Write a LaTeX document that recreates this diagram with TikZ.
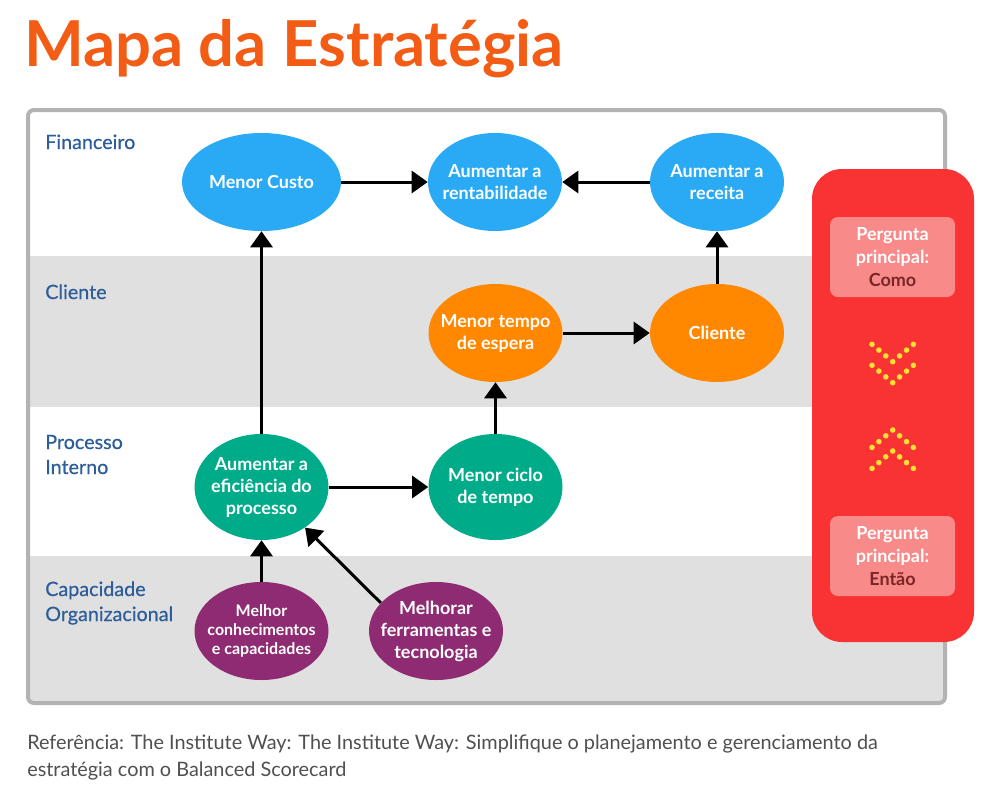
\documentclass[tikz,border=0pt]{standalone}
\usepackage{fontspec}
\setmainfont{Lato}
\newfontfamily\lanefont[FakeBold=0.6]{Lato}
\usetikzlibrary{shapes.geometric,arrows.meta}
\definecolor{titleorange}{RGB}{242,92,20}
\definecolor{lanelabel}{RGB}{46,94,154}
\definecolor{lanegray}{RGB}{224,224,224}
\definecolor{framegray}{RGB}{179,179,179}
\definecolor{finblue}{RGB}{42,170,245}
\definecolor{cliorange}{RGB}{255,136,0}
\definecolor{procgreen}{RGB}{0,171,138}
\definecolor{cappurple}{RGB}{142,43,114}
\definecolor{panelred}{RGB}{249,51,51}
\definecolor{askpink}{RGB}{249,138,138}
\definecolor{askdark}{RGB}{122,38,38}
\definecolor{dotyellow}{RGB}{255,224,51}
\definecolor{notegray}{RGB}{80,80,80}

\begin{document}
\begin{tikzpicture}[x=0.75pt,y=-0.75pt,
  goal/.style={ellipse,fill=#1,minimum width=100.5pt,minimum height=73.5pt,inner sep=0pt},
  goaltext/.style={text=white,font=\bfseries\fontsize{13.5}{16.5}\selectfont,align=center},
  smalltext/.style={text=white,font=\bfseries\fontsize{12}{14}\selectfont,align=center},
  lane/.style={anchor=base west,text=lanelabel,font=\lanefont\fontsize{14.8}{18.75}\selectfont,align=left,inner sep=0pt},
  ask/.style={fill=askpink,rounded corners=6pt,minimum width=93.75pt,minimum height=60pt,text=white,font=\bfseries\fontsize{13.5}{17.25}\selectfont,align=center},
  link/.style={-{Triangle[width=16.5pt,length=12pt]},line width=2.25pt}]
  \fill[white] (0,0) rectangle (1000,797);
  \useasboundingbox (0,0) rectangle (1000,797);

  % title and source (base = last line)
  \node[anchor=base west,inner sep=0pt,text=titleorange,font=\bfseries\fontsize{47.5}{48}\selectfont] (title) at (24,66) {Mapa da Estratégia};
  \node[anchor=base west,inner sep=0pt,text=notegray,font=\fontsize{14.9}{20.25}\selectfont,align=left] (source) at (27,776)
    {Referência: The Institute Way: The Institute Way: Simplifique o planejamento e gerenciamento da\\estratégia com o Balanced Scorecard};

  % lanes
  \fill[lanegray] (30,256) rectangle (943,407);
  \fill[lanegray] (30,556) rectangle (943,701);
  \draw[framegray,line width=3pt,rounded corners=4.5pt] (28,110) rectangle (945,703);
  \node[lane] (fin) at (45,149) {Financeiro};
  \node[lane] (cli) at (45,299) {Cliente};
  \node[lane] (proc) at (45,474) {Processo\\Interno};
  \node[lane] (cap) at (45,621) {Capacidade\\Organizacional};

  % objectives
  \node[goal=finblue,minimum width=119.25pt,label={[goaltext]center:Menor Custo}] (custo) at (261.5,182) {};
  \node[goal=finblue,label={[goaltext]center:{Aumentar a\\rentabilidade}}] (rent) at (495,182) {};
  \node[goal=finblue,label={[goaltext]center:{Aumentar a\\receita}}] (receita) at (717,182) {};
  \node[goal=cliorange,label={[goaltext]center:{Menor tempo\\de espera}}] (tempo) at (495.5,333) {};
  \node[goal=cliorange,label={[goaltext]center:Cliente}] (cliente) at (717,333) {};
  \node[goal=procgreen,minimum height=79.5pt,label={[goaltext]center:{Aumentar a\\eficiência do\\processo}}] (efic) at (261.5,487) {};
  \node[goal=procgreen,minimum height=79.5pt,label={[goaltext]center:{Menor ciclo\\de tempo}}] (ciclo) at (495.5,487) {};
  \node[goal=cappurple,label={[smalltext]center:{Melhor\\conhecimentos\\e capacidades}}] (conhec) at (261.5,631) {};
  \node[goal=cappurple,label={[goaltext]center:{Melhorar\\ferramentas e\\tecnologia}}] (ferr) at (436,631) {};

  \draw[link] (custo) -- (rent);
  \draw[link] (receita) -- (rent);
  \draw[link] (efic) -- (custo);
  \draw[link] (efic) -- (ciclo);
  \draw[link] (ciclo) -- (tempo);
  \draw[link] (tempo) -- (cliente);
  \draw[link] (cliente) -- (receita);
  \draw[link] (conhec) -- (efic);
  \draw[link] (ferr.153) -- (efic.-43);

  % side panel
  \fill[panelred,rounded corners=22.5pt] (812,169) rectangle (974,642);
  \node[ask] (como) at (892.5,257) {Pergunta\\principal:\\\textcolor{askdark}{Como}};
  \node[ask] (entao) at (892.5,556) {Pergunta\\principal:\\\textcolor{askdark}{Então}};
  \foreach \v in {361.7,382.7}
    \foreach \i in {-3,...,3}
      \fill[dotyellow] ({892.7+6.9*\i},{\v-5.8*abs(\i)}) circle (2.1pt);
  \foreach \v in {430,451}
    \foreach \i in {-3,...,3}
      \fill[dotyellow] ({892.7+6.9*\i},{\v+5.8*abs(\i)}) circle (2.1pt);
\end{tikzpicture}
\end{document}
